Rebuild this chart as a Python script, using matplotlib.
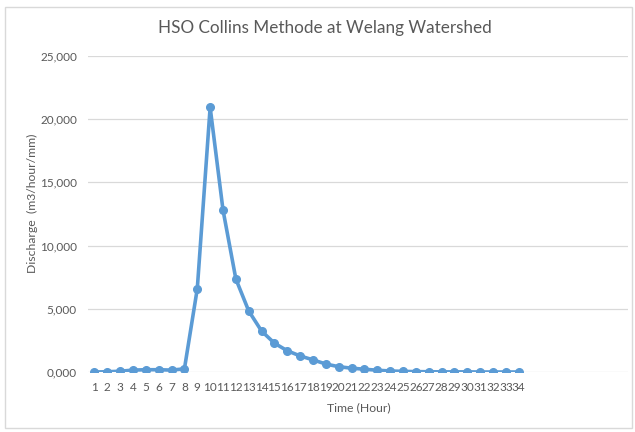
import matplotlib
matplotlib.use("Agg")
import matplotlib.pyplot as plt
from matplotlib.patches import Rectangle
from matplotlib.ticker import FuncFormatter

# Collins unit hydrograph ordinates, Welang watershed
hours = [str(h) for h in range(1, 35)]
discharge = [0.00, 0.02, 0.06, 0.15, 0.18, 0.18, 0.15, 0.25, 6.59, 20.94,
             12.82, 7.36, 4.83, 3.24, 2.28, 1.68, 1.27, 0.96, 0.63, 0.42,
             0.30, 0.22, 0.14, 0.08, 0.05, 0.03, 0.02, 0.01, 0.01, 0.01,
             0.00, 0.00, 0.00, 0.00]
y_ticks = [0, 5, 10, 15, 20, 25]
n_slots = 42  # category slots on the horizontal axis

plt.rcParams['font.family'] = ['Lato', 'DejaVu Sans']
text_grey = '#595959'
line_blue = '#5B9BD5'
grid_grey = '#D9D9D9'

fig = plt.figure(figsize=(6.35, 4.32), dpi=100)
fig.patch.set_facecolor('white')
fig.patches.append(Rectangle((5 / 635, 4 / 432), 627 / 635, 421 / 432,
                             transform=fig.transFigure, fill=False,
                             edgecolor='#D9D9D9', linewidth=1.0))

ax = fig.add_axes([88 / 635, 60 / 432, 540 / 635, 316 / 432])
x = list(range(len(hours)))
ax.plot(x, discharge, color=line_blue, linewidth=2.6, marker='o',
        markersize=5.5, markerfacecolor=line_blue, markeredgecolor=line_blue,
        zorder=3)

ax.set_xlim(-0.5, n_slots - 0.5)
ax.set_ylim(0, 25)
ax.set_xticks(x)
ax.set_xticklabels(hours)
ax.set_yticks(y_ticks)
ax.yaxis.set_major_formatter(FuncFormatter(lambda v, _: f"{v:.3f}".replace('.', ',')))
ax.grid(axis='y', color=grid_grey, linewidth=0.9)
ax.set_axisbelow(True)
for s in ax.spines.values():
    s.set_visible(False)
ax.tick_params(axis='both', length=0, labelsize=8.5, colors=text_grey)
ax.tick_params(axis='x', pad=7)
ax.tick_params(axis='y', pad=8)

fig.text(325 / 635, 1 - 28 / 432, 'HSO Collins Methode at Welang Watershed',
         ha='center', va='center', fontsize=12.3, color=text_grey)
fig.text(359 / 635, 1 - 408 / 432, 'Time (Hour)', ha='center', va='center',
         fontsize=8.8, color=text_grey)
fig.text(32 / 635, 1 - 203 / 432, 'Discharge  (m3/hour/mm)', ha='center',
         va='center', rotation=90, fontsize=8.8, color=text_grey)

fig.savefig('out.png', dpi=100)
